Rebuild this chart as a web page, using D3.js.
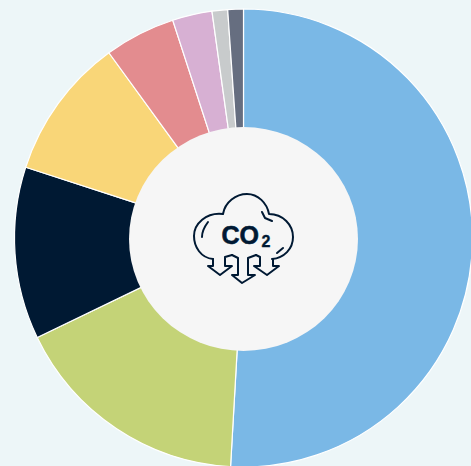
<!DOCTYPE html>
<html>
<head>
<meta charset="utf-8">
<script src="https://cdn.jsdelivr.net/npm/d3@7"></script>
<style>
html, body { margin: 0; padding: 0; background: #edf6f8; overflow: hidden; }
svg { display: block; }
</style>
</head>
<body>
<script>
var categories = ["a", "b", "c", "d", "e", "f", "g", "h"];
var values = [50.9, 16.95, 12.15, 10.0, 5.0, 2.8, 1.1, 1.1];
var colors = ["#7ab8e6", "#c4d377", "#001933", "#f9d678", "#e38c8f", "#d7b0d3", "#c8cbcc", "#666e80"];

var width = 471,
    height = 466,
    cx = 243.5,
    cy = 238,
    outer = 229;

var svg = d3.select("body").append("svg")
    .attr("width", width)
    .attr("height", height);

var g = svg.append("g")
    .attr("transform", "translate(" + cx + "," + cy + ")");

var pie = d3.pie().sort(null);
var arc = d3.arc().innerRadius(90).outerRadius(outer);

g.selectAll(".slice")
    .data(pie(values))
    .enter().append("path")
    .attr("class", "slice")
    .attr("d", arc)
    .attr("fill", function(d, i) { return colors[i]; })
    .attr("stroke", "#ffffff")
    .attr("stroke-width", 1.2)
    .append("title")
    .text(function(d, i) { return categories[i]; });

// hole is very slightly wider than tall
svg.append("ellipse")
    .attr("cx", 243.5)
    .attr("cy", 239)
    .attr("rx", 114.5)
    .attr("ry", 112)
    .attr("fill", "#f6f6f6");

// the cloud icon, in page coordinates
var icon = svg.append("g")
    .attr("fill", "none")
    .attr("stroke", "#001933")
    .attr("stroke-width", 2)
    .attr("stroke-linejoin", "round")
    .attr("stroke-linecap", "round");

icon.append("path")
    .attr("d", "M213 259 C201 258 194 247 194 236 C194 224 206 212 223 214 C225 202 236 194 247 194 C258 194 267 203 269 214 C283 214 293 225 293 237 C293 249 284 258 272 259");
icon.append("path")
    .attr("d", "M208 222 C205 226 202 232 202 237");
icon.append("path")
    .attr("d", "M262 212 L265 218 L272 221");
icon.append("path")
    .attr("d", "M277 253 L283 248");

// left, middle and right arrows
icon.append("path")
    .attr("d", "M213 259 L213 266 L208 266 L220 275 L232 266 L225 266 L225 257 L232 255");
icon.append("path")
    .attr("d", "M232 255 L238 258 L238 275 L232 275 L242 283 L255 275 L248 275 L248 258 L256 255");
icon.append("path")
    .attr("d", "M256 255 L260 257 L260 266 L254 266 L267 275 L279 266 L273 266 L273 259");

svg.append("text")
    .attr("x", 221.5)
    .attr("y", 244)
    .attr("font-family", "Liberation Sans, Arial, sans-serif")
    .attr("font-weight", "bold")
    .attr("font-size", 25)
    .attr("fill", "#001933")
    .attr("stroke", "#001933")
    .attr("stroke-width", 0.6)
    .text("CO");

svg.append("text")
    .attr("x", 261.5)
    .attr("y", 247)
    .attr("font-family", "Liberation Sans, Arial, sans-serif")
    .attr("font-weight", "bold")
    .attr("font-size", 16)
    .attr("fill", "#001933")
    .attr("stroke", "#001933")
    .attr("stroke-width", 0.4)
    .text("2");
</script>
</body>
</html>
